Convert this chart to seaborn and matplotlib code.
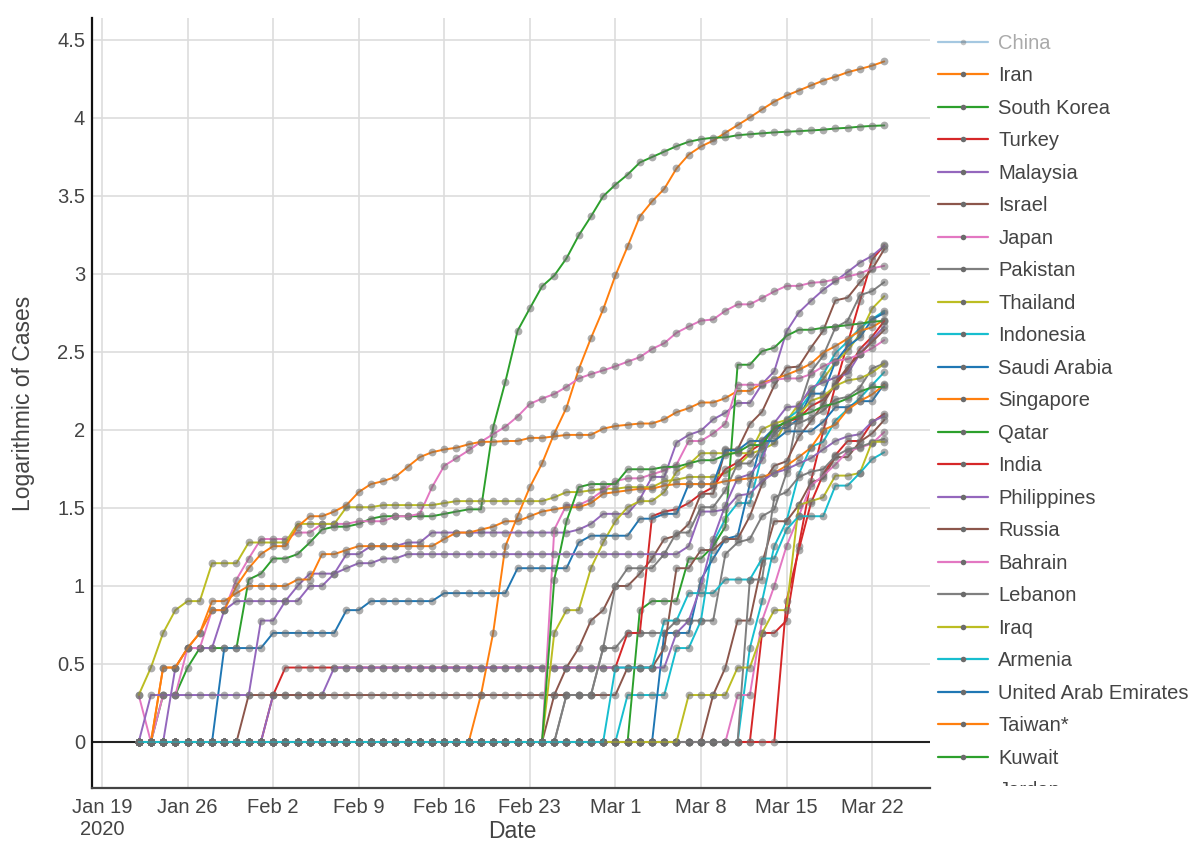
import numpy as np
import pandas as pd
import matplotlib
matplotlib.use("Agg")
import matplotlib.pyplot as plt
import matplotlib.dates as mdates
from matplotlib.lines import Line2D
from matplotlib.patches import Rectangle
import seaborn as sns

# ---------------- data (cumulative confirmed cases, Jan 22 .. Mar 23, 2020) ----------------
start_date = "2020-01-22"
n_days = 62

legend_names = ["China", "Iran", "South Korea", "Turkey", "Malaysia", "Israel", "Japan",
                "Pakistan", "Thailand", "Indonesia", "Saudi Arabia", "Singapore", "Qatar",
                "India", "Philippines", "Russia", "Bahrain", "Lebanon", "Iraq", "Armenia",
                "United Arab Emirates", "Taiwan*", "Kuwait", "Jordan", "Vietnam", "Cyprus",
                "Sri Lanka", "Brunei", "Cambodia", "Azerbaijan"]
hidden = ["China"]
legend_visible_count = 24  # the legend box is cut off after "Jordan"

iran = [0, 0, 0, 0, 0, 0, 0, 0, 0, 0,
        0, 0, 0, 0, 0, 0, 0, 0, 0, 0,
        0, 0, 0, 0, 0, 0, 0, 0, 2, 5,
        18, 28, 43, 61, 95, 139, 245, 388, 593,
        978, 1501, 2336, 2922, 3513, 4747, 5823, 6566, 7161, 8042,
        9000, 10075, 11364, 12729, 13938, 14991, 16169, 17361, 18407, 19644,
        20610, 21638, 23049]
south_korea = [1, 1, 2, 2, 3, 4, 4, 4, 4, 11,
               12, 15, 15, 16, 19, 23, 24, 24, 25, 27,
               28, 28, 28, 28, 28, 29, 30, 31, 31, 104,
               204, 433, 602, 833, 977, 1261, 1766, 2337, 3150,
               3736, 4335, 5186, 5621, 6088, 6593, 7041, 7314, 7478, 7513,
               7755, 7869, 7979, 8086, 8162, 8236, 8320, 8413, 8565, 8652,
               8799, 8897, 8961]
turkey = [0, 0, 0, 0, 0, 0, 0, 0, 0, 0,
          0, 0, 0, 0, 0, 0, 0, 0, 0, 0,
          0, 0, 0, 0, 0, 0, 0, 0, 0, 0,
          0, 0, 0, 0, 0, 0, 0, 0, 0,
          0, 0, 0, 0, 0, 0, 0, 0, 0, 0,
          1, 1, 5, 5, 6, 18, 47, 98, 192, 359,
          670, 1236, 1529]
malaysia = [0, 0, 0, 3, 4, 4, 4, 7, 8, 8,
            8, 8, 8, 10, 12, 12, 12, 16, 16, 18,
            18, 18, 19, 19, 22, 22, 22, 22, 22, 22,
            22, 22, 22, 22, 22, 22, 23, 25, 29,
            29, 29, 36, 50, 50, 83, 93, 99, 117, 129,
            149, 149, 197, 238, 428, 566, 673, 790, 900, 1030,
            1183, 1306, 1518]
israel = [0, 0, 0, 0, 0, 0, 0, 0, 0, 0,
          0, 0, 0, 0, 0, 0, 0, 0, 0, 0,
          0, 0, 0, 0, 0, 0, 0, 0, 0, 0,
          1, 1, 1, 1, 2, 3, 4, 6, 7,
          10, 10, 12, 15, 20, 21, 25, 39, 39, 75,
          75, 109, 131, 193, 251, 255, 337, 433, 677, 705,
          883, 1071, 1442]
japan = [2, 1, 2, 2, 4, 4, 7, 7, 11, 15,
         20, 20, 20, 22, 22, 25, 25, 25, 26, 26,
         26, 28, 28, 29, 43, 59, 66, 74, 84, 94,
         105, 122, 147, 159, 170, 189, 214, 228, 241,
         256, 274, 293, 331, 360, 420, 461, 502, 511, 581,
         639, 639, 701, 773, 839, 839, 878, 889, 924, 963,
         1007, 1086, 1128]
pakistan = [0, 0, 0, 0, 0, 0, 0, 0, 0, 0,
            0, 0, 0, 0, 0, 0, 0, 0, 0, 0,
            0, 0, 0, 0, 0, 0, 0, 0, 0, 0,
            0, 0, 0, 0, 0, 2, 2, 2, 4,
            4, 5, 5, 5, 5, 6, 6, 6, 6, 16,
            19, 20, 28, 31, 53, 136, 236, 299, 454, 501,
            730, 776, 887]
thailand = [2, 3, 5, 7, 8, 8, 14, 14, 14, 19,
            19, 19, 19, 25, 25, 25, 25, 32, 32, 32,
            33, 33, 33, 33, 33, 34, 35, 35, 35, 35,
            35, 35, 35, 35, 37, 40, 40, 41, 42,
            42, 43, 43, 43, 47, 48, 50, 50, 50, 53,
            59, 70, 75, 82, 114, 147, 177, 212, 272, 322,
            411, 599, 721]
indonesia = [0, 0, 0, 0, 0, 0, 0, 0, 0, 0,
             0, 0, 0, 0, 0, 0, 0, 0, 0, 0,
             0, 0, 0, 0, 0, 0, 0, 0, 0, 0,
             0, 0, 0, 0, 0, 0, 0, 0, 0,
             0, 2, 2, 2, 2, 4, 4, 6, 19, 27,
             34, 34, 69, 96, 117, 134, 172, 227, 311, 369,
             450, 514, 579]
saudi_arabia = [0, 0, 0, 0, 0, 0, 0, 0, 0, 0,
                0, 0, 0, 0, 0, 0, 0, 0, 0, 0,
                0, 0, 0, 0, 0, 0, 0, 0, 0, 0,
                0, 0, 0, 0, 0, 0, 0, 0, 0,
                0, 1, 1, 1, 5, 5, 5, 11, 15, 20,
                21, 45, 86, 103, 103, 118, 171, 171, 274, 344,
                392, 511, 562]
singapore = [0, 1, 3, 3, 4, 5, 7, 7, 10, 13,
             16, 18, 18, 24, 28, 28, 30, 33, 40, 45,
             47, 50, 58, 67, 72, 75, 77, 81, 84, 84,
             85, 85, 89, 89, 91, 93, 93, 93, 102,
             106, 108, 110, 110, 117, 130, 138, 150, 150, 160,
             178, 178, 200, 212, 226, 243, 266, 313, 345, 385,
             432, 455, 509]
qatar = [0, 0, 0, 0, 0, 0, 0, 0, 0, 0,
         0, 0, 0, 0, 0, 0, 0, 0, 0, 0,
         0, 0, 0, 0, 0, 0, 0, 0, 0, 0,
         0, 0, 0, 0, 0, 0, 0, 0, 1,
         1, 1, 7, 8, 8, 8, 15, 15, 18, 24,
         262, 262, 320, 337, 401, 439, 439, 452, 460, 470,
         481, 494, 501]
india = [0, 0, 0, 0, 0, 0, 0, 0, 1, 1,
         1, 2, 3, 3, 3, 3, 3, 3, 3, 3,
         3, 3, 3, 3, 3, 3, 3, 3, 3, 3,
         3, 3, 3, 3, 3, 3, 3, 3, 3,
         3, 5, 5, 28, 30, 31, 34, 39, 43, 56,
         62, 73, 82, 102, 113, 119, 142, 156, 194, 244,
         330, 396, 499]
philippines = [0, 0, 0, 0, 0, 0, 0, 0, 1, 1,
               1, 2, 2, 2, 2, 2, 3, 3, 3, 3,
               3, 3, 3, 3, 3, 3, 3, 3, 3, 3,
               3, 3, 3, 3, 3, 3, 3, 3, 3,
               3, 3, 3, 3, 3, 5, 6, 10, 20, 33,
               49, 52, 64, 111, 140, 142, 187, 202, 217, 230,
               307, 380, 462]
russia = [0, 0, 0, 0, 0, 0, 0, 0, 0, 2,
          2, 2, 2, 2, 2, 2, 2, 2, 2, 2,
          2, 2, 2, 2, 2, 2, 2, 2, 2, 2,
          2, 2, 2, 2, 2, 2, 2, 2, 2,
          2, 3, 3, 3, 4, 13, 13, 17, 17, 20,
          20, 28, 45, 59, 63, 90, 114, 147, 199, 253,
          306, 367, 438]
bahrain = [0, 0, 0, 0, 0, 0, 0, 0, 0, 0,
           0, 0, 0, 0, 0, 0, 0, 0, 0, 0,
           0, 0, 0, 0, 0, 0, 0, 0, 0, 0,
           0, 0, 0, 1, 23, 33, 33, 36, 41,
           47, 49, 49, 52, 55, 60, 85, 85, 95, 110,
           195, 195, 195, 210, 214, 214, 228, 256, 278, 285,
           305, 334, 377]
lebanon = [0, 0, 0, 0, 0, 0, 0, 0, 0, 0,
           0, 0, 0, 0, 0, 0, 0, 0, 0, 0,
           0, 0, 0, 0, 0, 0, 0, 0, 0, 0,
           1, 1, 1, 1, 1, 2, 2, 2, 4,
           10, 13, 13, 13, 16, 22, 22, 32, 32, 41,
           61, 61, 77, 93, 110, 110, 120, 133, 157, 163,
           187, 248, 267]
iraq = [0, 0, 0, 0, 0, 0, 0, 0, 0, 0,
        0, 0, 0, 0, 0, 0, 0, 0, 0, 0,
        0, 0, 0, 0, 0, 0, 0, 0, 0, 0,
        0, 0, 0, 1, 5, 7, 7, 13, 19,
        26, 32, 35, 35, 40, 54, 60, 71, 71, 71,
        71, 71, 101, 110, 116, 124, 154, 164, 192, 208,
        214, 233, 266]
armenia = [0, 0, 0, 0, 0, 0, 0, 0, 0, 0,
           0, 0, 0, 0, 0, 0, 0, 0, 0, 0,
           0, 0, 0, 0, 0, 0, 0, 0, 0, 0,
           0, 0, 0, 0, 0, 0, 0, 0, 0,
           1, 1, 1, 1, 1, 1, 1, 1, 1, 1,
           1, 4, 8, 18, 26, 52, 78, 84, 115, 136,
           160, 194, 235]
uae = [0, 0, 0, 0, 0, 0, 0, 4, 4, 4,
       4, 5, 5, 5, 5, 5, 5, 7, 7, 8,
       8, 8, 8, 8, 8, 9, 9, 9, 9, 9,
       9, 13, 13, 13, 13, 13, 19, 21, 21,
       21, 21, 27, 27, 29, 29, 45, 45, 45, 74,
       74, 85, 85, 85, 98, 98, 98, 113, 140, 140,
       153, 153, 198]
taiwan = [1, 1, 3, 3, 4, 5, 8, 8, 9, 10,
          10, 10, 10, 11, 11, 16, 16, 17, 18, 18,
          18, 18, 18, 18, 18, 20, 22, 22, 23, 24,
          26, 26, 28, 30, 31, 32, 32, 34, 39,
          40, 41, 42, 42, 44, 45, 45, 45, 45, 47,
          48, 49, 50, 53, 59, 67, 77, 100, 108, 135,
          153, 169, 195]
kuwait = [0, 0, 0, 0, 0, 0, 0, 0, 0, 0,
          0, 0, 0, 0, 0, 0, 0, 0, 0, 0,
          0, 0, 0, 0, 0, 0, 0, 0, 0, 0,
          0, 0, 0, 1, 11, 26, 43, 45, 45,
          45, 56, 56, 56, 58, 58, 61, 64, 64, 69,
          72, 80, 80, 104, 112, 123, 130, 142, 148, 159,
          176, 188, 189]
jordan = [0, 0, 0, 0, 0, 0, 0, 0, 0, 0,
          0, 0, 0, 0, 0, 0, 0, 0, 0, 0,
          0, 0, 0, 0, 0, 0, 0, 0, 0, 0,
          0, 0, 0, 0, 0, 0, 0, 0, 0,
          0, 0, 1, 1, 1, 1, 1, 1, 1, 1,
          1, 1, 1, 1, 8, 17, 34, 52, 69, 85,
          85, 112, 127]
vietnam = [0, 2, 2, 2, 2, 2, 2, 2, 2, 2,
           6, 6, 8, 8, 10, 10, 12, 13, 14, 14,
           15, 15, 16, 16, 16, 16, 16, 16, 16, 16,
           16, 16, 16, 16, 16, 16, 16, 16, 16,
           16, 16, 16, 16, 16, 16, 18, 30, 30, 31,
           38, 39, 47, 53, 56, 61, 66, 75, 85, 91,
           94, 113, 123]
cyprus = [0, 0, 0, 0, 0, 0, 0, 0, 0, 0,
          0, 0, 0, 0, 0, 0, 0, 0, 0, 0,
          0, 0, 0, 0, 0, 0, 0, 0, 0, 0,
          0, 0, 0, 0, 0, 0, 0, 0, 0,
          0, 0, 0, 0, 0, 0, 0, 0, 2, 3,
          6, 6, 14, 26, 26, 33, 46, 49, 67, 67,
          84, 95, 116]
sri_lanka = [0, 0, 0, 0, 0, 1, 1, 1, 1, 1,
             1, 1, 1, 1, 1, 1, 1, 1, 1, 1,
             1, 1, 1, 1, 1, 1, 1, 1, 1, 1,
             1, 1, 1, 1, 1, 1, 1, 1, 1,
             1, 1, 1, 1, 1, 1, 1, 1, 1, 1,
             2, 2, 6, 10, 18, 28, 44, 51, 60, 73,
             77, 82, 97]
brunei = [0, 0, 0, 0, 0, 0, 0, 0, 0, 0,
          0, 0, 0, 0, 0, 0, 0, 0, 0, 0,
          0, 0, 0, 0, 0, 0, 0, 0, 0, 0,
          0, 0, 0, 0, 0, 0, 0, 0, 0,
          0, 0, 0, 0, 0, 0, 0, 0, 1, 1,
          1, 11, 11, 37, 40, 50, 54, 56, 68, 75,
          78, 83, 88]
cambodia = [0, 0, 0, 0, 0, 1, 1, 1, 1, 1,
            1, 1, 1, 1, 1, 1, 1, 1, 1, 1,
            1, 1, 1, 1, 1, 1, 1, 1, 1, 1,
            1, 1, 1, 1, 1, 1, 1, 1, 1,
            1, 1, 1, 1, 1, 1, 2, 2, 2, 2,
            3, 3, 5, 7, 7, 33, 35, 37, 51, 51,
            53, 84, 84]
azerbaijan = [0, 0, 0, 0, 0, 0, 0, 0, 0, 0,
              0, 0, 0, 0, 0, 0, 0, 0, 0, 0,
              0, 0, 0, 0, 0, 0, 0, 0, 0, 0,
              0, 0, 0, 0, 0, 0, 0, 1, 1,
              3, 3, 3, 3, 6, 6, 9, 9, 9, 11,
              11, 11, 15, 15, 23, 28, 28, 28, 44, 44,
              53, 65, 72]

tick_dates = ["2020-01-19", "2020-01-26", "2020-02-02", "2020-02-09", "2020-02-16",
              "2020-02-23", "2020-03-01", "2020-03-08", "2020-03-15", "2020-03-22"]
tick_labels = ["Jan 19\n2020", "Jan 26", "Feb 2", "Feb 9", "Feb 16",
               "Feb 23", "Mar 1", "Mar 8", "Mar 15", "Mar 22"]
y_ticks = [0, 0.5, 1, 1.5, 2, 2.5, 3, 3.5, 4, 4.5]
y_tick_labels = ["0", "0.5", "1", "1.5", "2", "2.5", "3", "3.5", "4", "4.5"]

plotly_colors = ["#1f77b4", "#ff7f0e", "#2ca02c", "#d62728", "#9467bd",
                 "#8c564b", "#e377c2", "#7f7f7f", "#bcbd22", "#17becf"]

series = {
    "Iran": iran, "South Korea": south_korea, "Turkey": turkey, "Malaysia": malaysia,
    "Israel": israel, "Japan": japan, "Pakistan": pakistan, "Thailand": thailand,
    "Indonesia": indonesia, "Saudi Arabia": saudi_arabia, "Singapore": singapore,
    "Qatar": qatar, "India": india, "Philippines": philippines, "Russia": russia,
    "Bahrain": bahrain, "Lebanon": lebanon, "Iraq": iraq, "Armenia": armenia,
    "United Arab Emirates": uae, "Taiwan*": taiwan, "Kuwait": kuwait, "Jordan": jordan,
    "Vietnam": vietnam, "Cyprus": cyprus, "Sri Lanka": sri_lanka, "Brunei": brunei,
    "Cambodia": cambodia, "Azerbaijan": azerbaijan,
}

# ---------------- build long table ----------------
dates = pd.date_range(start_date, periods=n_days, freq="D")
rows = []
for name in legend_names:
    if name in hidden:
        continue
    vals = np.asarray(series[name], dtype=float)
    assert len(vals) == n_days, name
    logv = np.log10(np.maximum(vals, 1))
    rows.append(pd.DataFrame({"Date": dates, "log": logv, "Country": name}))
df = pd.concat(rows, ignore_index=True)

color_map = {n: plotly_colors[i % 10] for i, n in enumerate(legend_names)}
plot_order = [n for n in legend_names if n not in hidden]

# ---------------- figure ----------------
sns.set_theme(style="white")
plt.rcParams["font.family"] = ["Liberation Sans", "DejaVu Sans"]
text_color = "#444444"

fig = plt.figure(figsize=(12, 8.65), dpi=100)
ax = fig.add_axes([92 / 1200, 1 - 788 / 865, (930 - 92) / 1200, (788 - 18) / 865])

sns.lineplot(data=df, x="Date", y="log", hue="Country", hue_order=plot_order,
             palette=color_map, marker="o", estimator=None, errorbar=None,
             sort=False, legend=False, linewidth=1.4, ax=ax)
for ln in ax.lines:
    ln.set_markersize(5.6)
    ln.set_markerfacecolor((0.42, 0.42, 0.42, 0.55))
    ln.set_markeredgecolor((0.42, 0.42, 0.42, 0.0))
    ln.set_markeredgewidth(0)
    ln.set_zorder(2)

ax.axhline(0, color="#222222", lw=1.5, zorder=1.5)

# axes
tick_pos = pd.to_datetime(tick_dates)
ax.set_xticks(tick_pos)
ax.set_xticklabels(tick_labels)
x0 = mdates.date2num(pd.Timestamp("2020-01-19")) - 0.82
x1 = mdates.date2num(pd.Timestamp("2020-03-22")) + 4.74
ax.set_xlim(x0, x1)
ax.set_yticks(y_ticks)
ax.set_yticklabels(y_tick_labels)
ax.set_ylim(-0.295, 4.641)

ax.grid(True, color="#dddddd", lw=1.2)
ax.set_axisbelow(True)
for s in ["top", "right"]:
    ax.spines[s].set_visible(False)
ax.spines["left"].set_color("#111111")
ax.spines["left"].set_linewidth(1.6)
ax.spines["bottom"].set_color("#444444")
ax.spines["bottom"].set_linewidth(1.6)
ax.tick_params(axis="both", length=0, labelsize=14.5, labelcolor=text_color)
ax.tick_params(axis="x", pad=7)
ax.tick_params(axis="y", pad=5)

ax.set_xlabel("Date", fontsize=16.5, color=text_color)
ax.xaxis.set_label_coords(0.501, -0.041)
ax.set_ylabel("Logarithmic of Cases", fontsize=16.5, color=text_color, labelpad=16)

# legend (only the part that fits, as in the original)
leg_names = legend_names[:legend_visible_count]
handles = []
for name in leg_names:
    a = 0.4 if name in hidden else 1.0
    handles.append(Line2D([], [], color=color_map[name], lw=1.6, alpha=a, marker="o",
                          markersize=4, markerfacecolor=(0.42, 0.42, 0.42, 0.7),
                          markeredgewidth=0))
leg = fig.legend(handles, leg_names, loc="upper left",
                 bbox_to_anchor=(938 / 1200, 1 - 34 / 865), frameon=False,
                 fontsize=14.5, handlelength=2.5, handletextpad=0.5,
                 labelspacing=0.67, borderaxespad=0, borderpad=0)
for t, name in zip(leg.get_texts(), leg_names):
    t.set_color("#aaaaaa" if name in hidden else text_color)

# legend area is clipped at the bottom like the original
fig.add_artist(Rectangle((934 / 1200, 0), 1 - 934 / 1200, (865 - 786) / 865,
                         transform=fig.transFigure, facecolor="white",
                         edgecolor="none", zorder=10))

fig.savefig("out.png", dpi=100, facecolor="white")
